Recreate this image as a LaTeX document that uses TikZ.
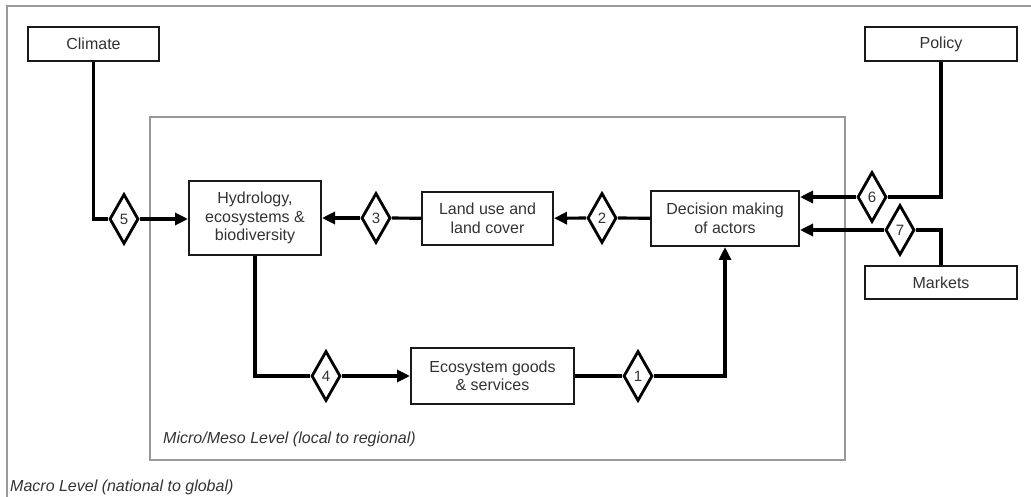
\documentclass[tikz,border=0pt]{standalone}
\usepackage{fontspec}
\setmainfont{Liberation Sans}
\usetikzlibrary{shapes.geometric,arrows.meta,positioning}

\begin{document}
\begin{tikzpicture}[x=1pt,y=-1pt,
  box/.style={draw=black!90,line width=2pt,align=center,inner sep=0pt,
    text=black!80,font=\fontsize{16}{18.5}\selectfont},
  gate/.style={diamond,draw,line width=2.8pt,inner sep=0pt,minimum width=29pt,
    minimum height=50pt,fill=white,text=black!80,font=\fontsize{15}{15}\selectfont},
  link/.style={line width=3.2pt},
  flow/.style={link,-{Triangle[length=13pt,width=12pt]}},
  frame/.style={draw=black!40,line width=1.4pt},
  level/.style={anchor=base west,inner sep=0pt,text=black!80,
    font=\fontsize{16}{18}\selectfont\itshape}]
  \useasboundingbox (0,0) rectangle (1031,497);

  % levels
  \draw[frame] (7,497) -- (7,6) -- (1031,6);
  \draw[frame] (150,117) rectangle (845,460);
  \node[level] (macro) at (10,491) {Macro Level (national to global)};
  \node[level] (micro) at (163,443) {Micro/Meso Level (local to regional)};

  % drivers
  \node[box,minimum width=131pt,minimum height=34pt] (climate) at (93.5,44) {Climate};
  \node[box,minimum width=152pt,minimum height=34pt] (policy) at (941,44) {Policy};
  \node[box,minimum width=152pt,minimum height=33pt] (markets) at (941,282.5) {Markets};

  % system
  \node[box,minimum width=132pt,minimum height=74pt] (hydro) at (255,218)
    {Hydrology,\\ecosystems \&\\biodiversity};
  \node[box,minimum width=131pt,minimum height=53pt] (landuse) at (487.5,218.5)
    {Land use and\\land cover};
  \node[box,minimum width=148pt,minimum height=55pt] (decision) at (725,218.5)
    {Decision making\\of actors};
  \node[box,minimum width=163pt,minimum height=56pt] (goods) at (492.5,376)
    {Ecosystem goods\\\& services};

  \node[gate] (d1) at (638,376) {1};
  \node[gate] (d2) at (602,218) {2};
  \node[gate] (d3) at (376,218) {3};
  \node[gate] (d4) at (326,376) {4};
  \node[gate] (d5) at (124,219) {5};
  \node[gate] (d6) at (872,197) {6};
  \node[gate] (d7) at (900,230) {7};

  \draw[link] (climate) |- (d5);
  \draw[flow] (d5) -- (d5 -| hydro.west);
  \draw[link] (decision) -- (d2);
  \draw[flow] (d2) -- (landuse);
  \draw[link] (landuse) -- (d3);
  \draw[flow] (d3) -- (d3 -| hydro.east);
  \draw[link] (hydro) |- (d4);
  \draw[flow] (d4) -- (goods);
  \draw[link] (goods) -- (d1);
  \draw[flow] (d1) -| (decision);
  \draw[link] (policy) |- (d6);
  \draw[flow] (d6) -- (d6 -| decision.east);
  \draw[link] (markets) |- (d7);
  \draw[flow] (d7) -- (d7 -| decision.east);
\end{tikzpicture}
\end{document}
